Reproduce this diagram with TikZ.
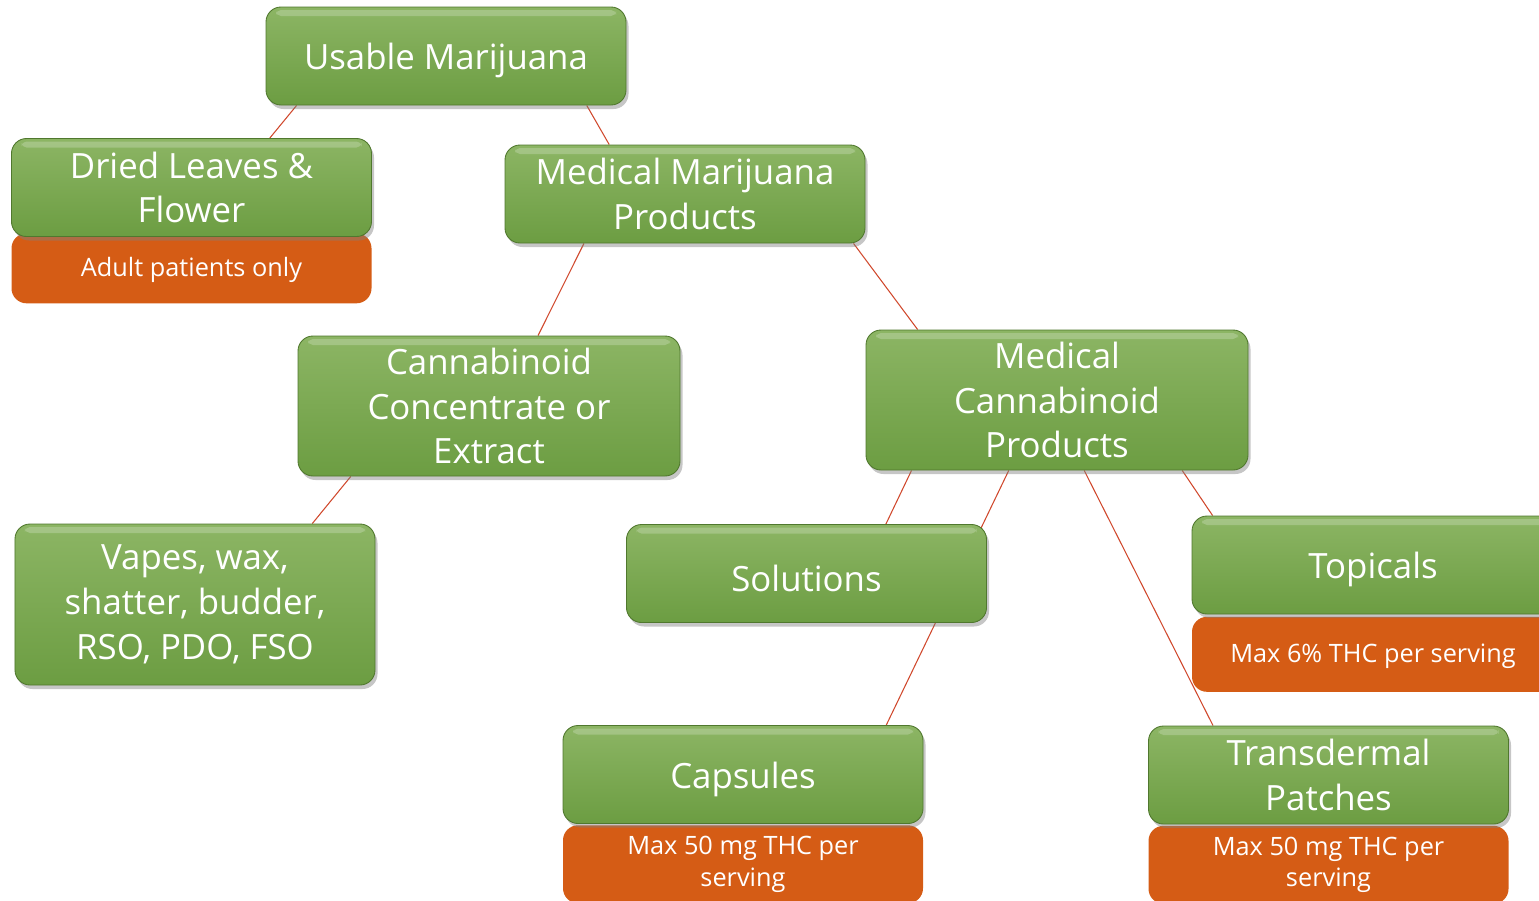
\documentclass[tikz,border=0pt]{standalone}
\usepackage{fontspec}
\setmainfont{Open Sans}
\usetikzlibrary{positioning,calc,shadows}
\definecolor{leafTop}{RGB}{140,181,100}
\definecolor{leafBot}{RGB}{108,157,66}
\definecolor{leafEdge}{RGB}{80,120,46}
\definecolor{rustFill}{RGB}{213,92,21}
\definecolor{linkRed}{RGB}{208,72,44}
\pgfdeclarelayer{back}
\pgfsetlayers{back,main}
\tikzstyle{box} = [rectangle, rounded corners=0.3cm, text=white, align=center, inner sep=2pt]
\tikzstyle{item} = [box, top color=leafTop, bottom color=leafBot, draw=leafEdge, line width=0.5pt,
    drop shadow={shadow xshift=0.05cm, shadow yshift=-0.08cm, opacity=0.45},
    path picture={
        \fill[white, opacity=0.22, rounded corners=0.1cm]
            ([xshift=0.2cm, yshift=-0.06cm]path picture bounding box.north west)
            rectangle ([xshift=-0.2cm, yshift=-0.18cm]path picture bounding box.north east);
    },
    execute at begin node={\rule{0pt}{20.5pt}},
    minimum width=7.2cm, minimum height=1.96cm, font=\fontsize{19.8}{25.5}\selectfont]
\tikzstyle{wide item} = [item, minimum width=7.64cm, minimum height=2.8cm]
\tikzstyle{note} = [box, fill=rustFill, minimum width=7.2cm, font=\fontsize{14.4}{18}\selectfont,
    execute at begin node={\rule{0pt}{13pt}}]
\tikzstyle{link} = [draw=linkRed, line width=0.6pt]

\begin{document}
\begin{tikzpicture}
    \useasboundingbox (0,0) rectangle (30.78,-18);

    \node[item] (usable) at (8.92,-1.12) {Usable Marijuana};
    \node[item] (dried) at (3.83,-3.75) {Dried Leaves \&\\ Flower};
    \node[item] (mmp) at (13.7,-3.88) {Medical Marijuana\\ Products};
    \node[wide item] (conc) at (9.78,-8.12) {Cannabinoid\\ Concentrate or\\ Extract};
    \node[wide item] (mcp) at (21.14,-8.0) {Medical\\ Cannabinoid\\ Products};
    \node[item, minimum height=3.22cm] (vapes) at (3.9,-12.09) {Vapes, wax,\\ shatter, budder,\\ RSO, PDO, FSO};
    \node[item] (solutions) at (16.13,-11.47) {Solutions};
    \node[item, minimum width=7.24cm] (topicals) at (27.46,-11.3) {Topicals};
    \node[item] (capsules) at (14.86,-15.49) {Capsules};
    \node[item] (patches) at (26.57,-15.5) {Transdermal\\ Patches};

    \begin{pgfonlayer}{back}
        % notes sit under the green boxes
        \node[note, minimum height=1.4cm, below=-0.08cm of dried] (driedNote) {Adult patients only};
        \node[note, minimum width=7.24cm, minimum height=1.5cm, below=0.04cm of topicals] (topicalsNote) {Max 6\% THC per serving};
        \node[note, minimum height=1.56cm, below=0.02cm of capsules] (capsulesNote) {Max 50 mg THC per\\ serving};
        \node[note, minimum height=1.56cm, below=0.02cm of patches] (patchesNote) {Max 50 mg THC per\\ serving};

        \path[link] ($(usable.south west)!.086!(usable.south east)$) -- ($(dried.north west)!.717!(dried.north east)$);
        \path[link] ($(usable.south west)!.89!(usable.south east)$) -- ($(mmp.north west)!.29!(mmp.north east)$);
        \path[link] ($(mmp.south west)!.22!(mmp.south east)$) -- ($(conc.north west)!.628!(conc.north east)$);
        \path[link] ($(mmp.south west)!.967!(mmp.south east)$) -- ($(mcp.north west)!.136!(mcp.north east)$);
        \path[link] ($(conc.south west)!.139!(conc.south east)$) -- ($(vapes.north west)!.825!(vapes.north east)$);
        \path[link] ($(mcp.south west)!.12!(mcp.south east)$) -- ($(solutions.north west)!.72!(solutions.north east)$);
        \path[link] ($(mcp.south west)!.374!(mcp.south east)$) -- ($(capsules.north west)!.897!(capsules.north east)$);
        \path[link] ($(mcp.south west)!.571!(mcp.south east)$) -- ($(patches.north west)!.18!(patches.north east)$);
        \path[link] ($(mcp.south west)!.827!(mcp.south east)$) -- ($(topicals.north west)!.058!(topicals.north east)$);
    \end{pgfonlayer}
\end{tikzpicture}
\end{document}
